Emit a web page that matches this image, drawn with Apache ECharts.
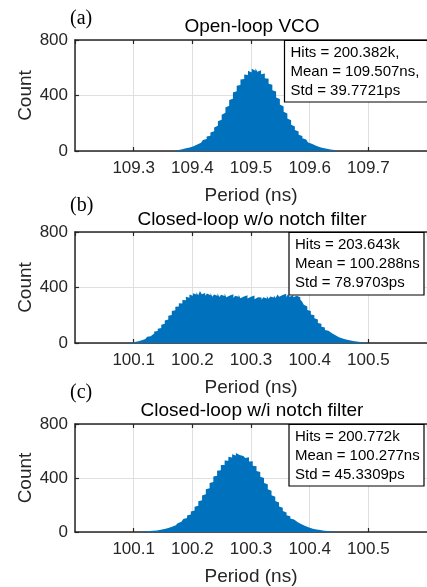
<!DOCTYPE html>
<html><head><meta charset="utf-8">
<script src="https://cdn.jsdelivr.net/npm/echarts@6/dist/echarts.min.js"></script>
<style>html,body{margin:0;padding:0;background:#fff}#c{width:427px;height:587px}</style>
</head><body><div id="c"></div>
<script>
// ---------------- data ----------------
const panelLabels = ['(a)', '(b)', '(c)'];
const titles = ['Open-loop VCO', 'Closed-loop w/o notch filter', 'Closed-loop w/i notch filter'];
const statsA = ['Hits = 200.382k,', 'Mean = 109.507ns,', 'Std = 39.7721ps'];
const statsB = ['Hits = 203.643k', 'Mean = 100.288ns', 'Std = 78.9703ps'];
const statsC = ['Hits = 200.772k', 'Mean = 100.277ns', 'Std = 45.3309ps'];
const xRangeA = [109.2, 109.8];
const xRangeB = [100.0, 100.6];
const xRangeC = [100.0, 100.6];
const yTicks = [0, 400, 800];
// histogram bins: first bin edge, bin width, counts per bin
const binStartA = 109.370, binWidthA = 0.0032;
const countsA = [6,8,11,12,16,19,21,26,28,35,
  38,46,49,60,66,79,86,104,110,133,
  143,170,182,214,226,261,275,313,326,368,
  377,421,430,470,476,516,519,552,548,578,
  566,592,579,596,571,582,553,558,524,521,
  484,478,438,428,386,375,335,321,283,270,
  234,221,189,177,151,140,118,108,91,83,
  69,62,52,47,39,36,29,26,22,19,
  16,13,11,9,7,5,4];
const binStartB = 100.090, binWidthB = 0.003;
const countsB = [2,3,4,7,8,12,13,19,22,29,
  33,45,49,63,68,83,87,102,108,131,
  138,163,170,196,201,230,236,262,263,286,
  284,310,309,333,327,349,340,358,349,366,
  344,375,352,360,341,356,345,362,333,349,
  340,358,331,347,339,356,329,343,337,352,
  325,340,333,348,322,335,329,344,320,333,
  327,342,316,330,320,328,312,329,321,338,
  319,336,328,343,325,349,334,346,336,355,
  331,352,334,345,330,340,326,330,314,299,
  276,263,238,230,205,200,178,170,145,138,
  117,111,94,88,75,71,58,55,44,41,
  35,33,28,26,22,20,18,14,13,11,
  9,8,6,5,4,2];
const binStartC = 100.1142, binWidthC = 0.0032;
const countsC = [4,4,6,7,8,9,11,12,15,17,
  20,22,27,29,35,38,46,50,59,65,
  76,82,97,104,122,130,151,160,187,195,
  227,235,270,279,317,324,363,370,411,416,
  454,458,496,497,530,528,558,551,576,566,
  585,571,584,563,573,548,553,523,524,490,
  487,452,445,409,400,363,353,317,306,272,
  261,229,218,189,180,155,145,125,117,100,
  92,78,73,60,57,46,44,36,33,27,
  25,20,19,15,14,11,10,8,7,5,
  5,3,2];

// ---------------- layout ----------------
const SANS = "'Liberation Sans', Arial, Helvetica, sans-serif";
const SERIF = "'Liberation Serif', 'Times New Roman', serif";
const AX = '#262626';
const BLUE = '#0072BD';
const GRID_L = 75, GRID_W = 354, GRID_H = 111;
const gridTops = [40, 232, 424];
const boxes = [
  {x: 284.5, w: 143, h: 61.5, tx: 290.5},
  {x: 289, w: 135, h: 62.5, tx: 295},
  {x: 289, w: 135, h: 61.5, tx: 295}
];
const labelY = [18.5, 206, 392.5];
const titleY = [27, 219.5, 411];

function stepData(start, bw, counts) {
  const d = counts.map((c, i) => [start + i * bw, c]);
  d.push([start + counts.length * bw, 0]);
  return d;
}

const panels = [
  {range: xRangeA, data: stepData(binStartA, binWidthA, countsA), stats: statsA},
  {range: xRangeB, data: stepData(binStartB, binWidthB, countsB), stats: statsB},
  {range: xRangeC, data: stepData(binStartC, binWidthC, countsC), stats: statsC}
];

const grid = [], xAxis = [], yAxis = [], series = [], graphic = [];
panels.forEach((p, k) => {
  const top = gridTops[k];
  grid.push({left: GRID_L, top: top, width: GRID_W, height: GRID_H});
  xAxis.push({
    type: 'value', gridIndex: k, min: p.range[0], max: p.range[1], interval: 0.1,
    position: 'bottom',
    name: 'Period (ns)', nameLocation: 'middle', nameGap: 35, nameMoveOverlap: false,
    nameTextStyle: {fontFamily: SANS, fontSize: 19, color: AX},
    axisLine: {show: true, onZero: false, lineStyle: {color: AX, width: 1.5}},
    axisTick: {show: true, inside: true, length: 4, lineStyle: {color: AX, width: 1.2}},
    axisLabel: {show: true, fontFamily: SANS, fontSize: 17, color: AX, margin: 9,
      showMinLabel: false, showMaxLabel: false},
    splitLine: {show: true, lineStyle: {color: '#dfdfdf', width: 1}}
  });
  xAxis.push({
    type: 'value', gridIndex: k, min: p.range[0], max: p.range[1], interval: 0.1,
    position: 'top',
    axisLine: {show: true, onZero: false, lineStyle: {color: AX, width: 1.5}},
    axisTick: {show: true, inside: true, length: 4, lineStyle: {color: AX, width: 1.2}},
    axisLabel: {show: false}, splitLine: {show: false}
  });
  yAxis.push({
    type: 'value', gridIndex: k, min: yTicks[0], max: yTicks[yTicks.length - 1],
    interval: yTicks[1] - yTicks[0],
    name: 'Count', nameLocation: 'middle', nameGap: 40, nameMoveOverlap: false,
    nameTextStyle: {fontFamily: SANS, fontSize: 19, color: AX},
    axisLine: {show: true, onZero: false, lineStyle: {color: AX, width: 1.5}},
    axisTick: {show: true, inside: true, length: 4, lineStyle: {color: AX, width: 1.2}},
    axisLabel: {show: true, fontFamily: SANS, fontSize: 17, color: AX, margin: 7},
    splitLine: {show: true, lineStyle: {color: '#dfdfdf', width: 1}}
  });
  series.push({
    type: 'line', xAxisIndex: 2 * k, yAxisIndex: k, data: p.data,
    step: 'end', symbol: 'none', showSymbol: false,
    lineStyle: {width: 0, color: BLUE}, itemStyle: {color: BLUE},
    areaStyle: {color: BLUE, opacity: 1}, silent: true, z: 2
  });
  graphic.push({type: 'text', x: 70, y: labelY[k], z: 100,
    style: {text: panelLabels[k], fontFamily: SERIF, fontSize: 20, fill: '#000',
      textAlign: 'left', textVerticalAlign: 'middle', align: 'left', verticalAlign: 'middle'}});
  graphic.push({type: 'text', x: GRID_L + GRID_W / 2, y: titleY[k], z: 100,
    style: {text: titles[k], fontFamily: SANS, fontSize: 19, fill: '#000',
      textAlign: 'center', textVerticalAlign: 'middle', align: 'center', verticalAlign: 'middle'}});
  const b = boxes[k];
  graphic.push({type: 'rect', z: 100,
    shape: {x: b.x, y: top + 0.5, width: b.w, height: b.h},
    style: {fill: '#fff', stroke: '#000', lineWidth: 1.2}});
  p.stats.forEach((s, j) => {
    graphic.push({type: 'text', x: b.tx, y: top + 13 + j * 19, z: 101,
      style: {text: s, fontFamily: SANS, fontSize: 15, fill: '#000',
        textAlign: 'left', textVerticalAlign: 'middle', align: 'left', verticalAlign: 'middle'}});
  });
});

const chart = echarts.init(document.getElementById('c'), null, {renderer: 'canvas'});
chart.setOption({
  animation: false,
  backgroundColor: '#fff',
  grid: grid, xAxis: xAxis, yAxis: yAxis, series: series, graphic: graphic
});
</script></body></html>
